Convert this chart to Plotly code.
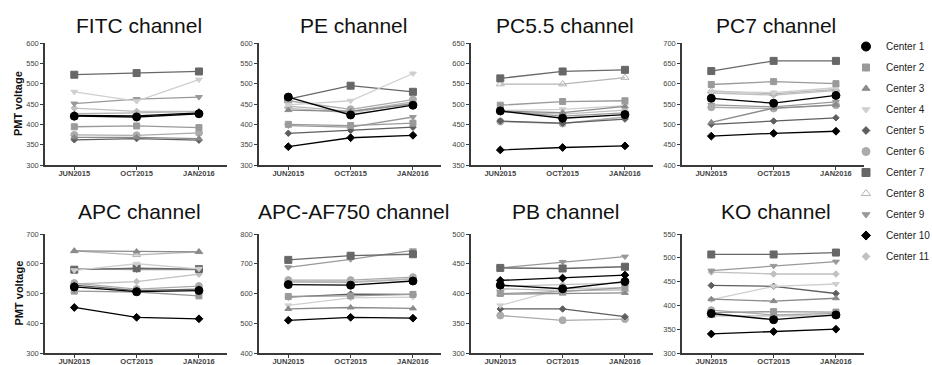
import plotly.graph_objects as go

DATES = ["JUN2015", "OCT2015", "JAN2016"]
CENTERS = ["Center %d" % i for i in range(1, 12)]
CHANNELS = ["FITC channel", "PE channel", "PC5.5 channel", "PC7 channel",
            "APC channel", "APC-AF750 channel", "PB channel", "KO channel"]

# rows = Center 1 .. Center 11, columns = JUN2015, OCT2015, JAN2016
FITC = [[420, 418, 426], [394, 396, 392], [368, 368, 365], [480, 457, 510],
        [362, 365, 361], [374, 373, 379], [522, 526, 530], [426, 428, 432],
        [451, 462, 467], [422, 421, 428], [440, 432, 432]]
PE = [[467, 423, 447], [400, 397, 403], [435, 432, 450], [448, 458, 525],
      [378, 385, 393], [458, 437, 461], [462, 495, 480], [445, 432, 455],
      [397, 393, 418], [345, 367, 373], [440, 428, 452]]
PC55 = [[483, 465, 474], [497, 506, 508], [482, 479, 494], [484, 487, 496],
        [458, 453, 463], [457, 452, 468], [563, 580, 584], [549, 549, 565],
        [482, 470, 478], [387, 393, 397], [480, 475, 485]]
PC7 = [[564, 552, 571], [598, 605, 600], [505, 540, 548], [580, 578, 590],
       [500, 508, 516], [542, 539, 547], [631, 656, 656], [582, 575, 586],
       [548, 543, 555], [471, 478, 483], [577, 572, 583]]
APC = [[522, 506, 510], [508, 505, 492], [643, 641, 640], [578, 600, 583],
       [528, 510, 515], [535, 515, 525], [580, 585, 582], [643, 630, 640],
       [583, 580, 580], [453, 420, 415], [532, 540, 565]]
APC_AF750 = [[630, 628, 642], [590, 592, 597], [548, 553, 550], [560, 585, 588],
             [588, 598, 597], [645, 645, 655], [713, 727, 732], [638, 637, 648],
             [688, 715, 745], [510, 520, 517], [640, 640, 650]]
PB = [[414, 408, 420], [400, 403, 410], [399, 400, 401], [380, 408, 410],
      [374, 374, 361], [363, 355, 357], [443, 442, 445], [408, 405, 406],
      [443, 453, 462], [422, 426, 431], [412, 415, 418]]
KO = [[383, 370, 380], [385, 387, 386], [413, 409, 415], [412, 440, 445],
      [442, 440, 425], [390, 380, 383], [507, 507, 511], [378, 378, 378],
      [473, 483, 492], [340, 345, 350], [470, 466, 466]]

Y_MIN = [300, 300, 350, 400, 300, 400, 300, 300]
Y_MAX = [600, 600, 650, 700, 700, 800, 500, 550]
Y_STEP = [50, 50, 50, 50, 100, 100, 50, 50]

ALL = [FITC, PE, PC55, PC7, APC, APC_AF750, PB, KO]

SYMBOLS = ["circle", "square", "triangle-up", "triangle-down", "diamond", "circle",
           "square", "triangle-up-open", "triangle-down", "diamond", "diamond"]
COLORS = ["#000000", "#9a9a9a", "#8a8a8a", "#cfcfcf", "#5e5e5e", "#ababab",
          "#676767", "#b5b5b5", "#999999", "#000000", "#c0c0c0"]
SIZES = [8, 6, 6, 6, 5, 7, 7, 7, 6, 6, 5]

W, H = 932, 365
COL_LEFT = [45, 259, 471, 682]
PANEL_W = 182
ROW_TOP = [43, 234]
ROW_BOT = [165, 353]

fig = go.Figure()
FONT = "Liberation Sans, Arial, sans-serif"

for k in range(8):
    r, c = divmod(k, 4)
    ax = "" if k == 0 else str(k + 1)
    xa, ya = "x" + ax, "y" + ax
    data = ALL[k]
    for i in reversed(range(11)):
        fig.add_trace(go.Scatter(
            x=DATES, y=data[i], xaxis=xa, yaxis=ya, mode="lines+markers",
            name=CENTERS[i], showlegend=False, cliponaxis=False,
            line=dict(color=COLORS[i], width=1.3),
            marker=dict(symbol=SYMBOLS[i], color=COLORS[i], size=SIZES[i],
                        line=dict(width=1, color=COLORS[i]))))
    x0 = COL_LEFT[c] / W
    x1 = (COL_LEFT[c] + PANEL_W) / W
    y0 = 1 - ROW_BOT[r] / H
    y1 = 1 - ROW_TOP[r] / H
    fig.layout["xaxis" + ax] = dict(
        domain=[x0, x1], anchor=ya, type="category", range=[-0.47, 2.45],
        automargin=False, ticklabelstandoff=-3,
        showline=True, linecolor="#3a3a3a", linewidth=1.5, ticks="outside",
        ticklen=3, tickcolor="#3a3a3a", showgrid=False, zeroline=False,
        tickfont=dict(family=FONT, size=7.5, color="#444444", weight="bold"))
    fig.layout["yaxis" + ax] = dict(
        domain=[y0, y1], anchor=xa, range=[Y_MIN[k], Y_MAX[k]],
        automargin=False,
        tickmode="linear", tick0=Y_MIN[k], dtick=Y_STEP[k],
        showline=True, linecolor="#3a3a3a", linewidth=1.5, ticks="outside",
        ticklen=3, tickcolor="#3a3a3a", showgrid=False, zeroline=False,
        tickfont=dict(family=FONT, size=7.5, color="#444444"))
    fig.add_annotation(
        text=CHANNELS[k], xref="paper", yref="paper",
        x=(COL_LEFT[c] + PANEL_W / 2 + 3) / W,
        y=1 - (25 if r == 0 else 212) / H,
        showarrow=False, xanchor="center", yanchor="middle",
        font=dict(family=FONT, size=21, color="#111111"))
    if c == 0:
        fig.add_annotation(
            text="PMT voltage", xref="paper", yref="paper", textangle=-90,
            x=18 / W, y=1 - ((ROW_TOP[r] + ROW_BOT[r]) / 2) / H,
            showarrow=False, xanchor="center", yanchor="middle",
            font=dict(family=FONT, size=11, color="#111111", weight="bold"))

for i in range(11):
    fig.add_trace(go.Scatter(
        x=[None], y=[None], mode="markers", name=CENTERS[i],
        legendgroup=CENTERS[i], showlegend=True,
        marker=dict(symbol=SYMBOLS[i], color=COLORS[i], size=SIZES[i] + 1,
                    line=dict(width=1, color=COLORS[i]))))

fig.update_layout(
    width=W, height=H,
    margin=dict(l=0, r=0, t=0, b=0, autoexpand=False),
    paper_bgcolor="white", plot_bgcolor="white",
    legend=dict(x=846 / W, y=1 - 32 / H, xanchor="left", yanchor="top",
                traceorder="grouped", tracegroupgap=2, itemwidth=30,
                font=dict(family=FONT, size=10, color="#222222"),
                bgcolor="rgba(0,0,0,0)"),
)

fig.write_html("out.html",
               config={"displayModeBar": False},
               post_script="document.body.style.margin='0px';"
                           "document.body.style.overflow='hidden';")
